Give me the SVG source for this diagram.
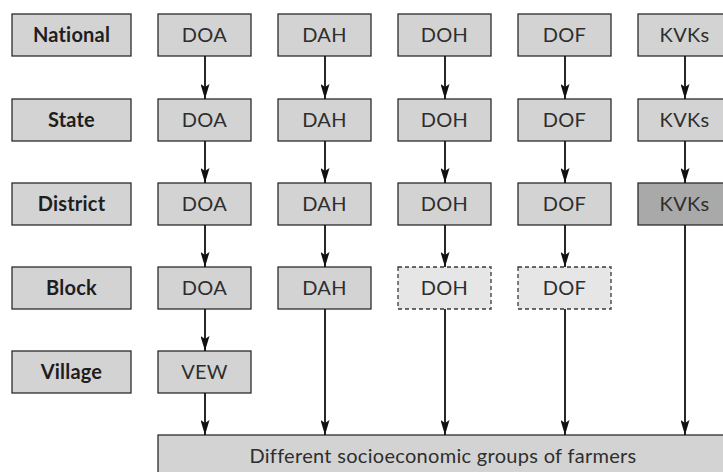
<svg xmlns="http://www.w3.org/2000/svg" width="723" height="472" viewBox="0 0 723 472">
<style>
.bx{fill:#d3d3d3;stroke:#2b2b2b;stroke-width:1.3}
.dk{fill:#a9a9a9;stroke:#2b2b2b;stroke-width:1.3}
.ds{fill:#e6e6e6;stroke:#3a3a3a;stroke-width:1.3;stroke-dasharray:4 3}
.lb{font-family:Lato,"Open Sans","Liberation Sans",sans-serif;font-weight:bold;font-size:20px;letter-spacing:0.2px;fill:#1e1e1e;text-anchor:middle}
.tx{font-family:Lato,"Open Sans","Liberation Sans",sans-serif;font-size:20px;letter-spacing:0.3px;fill:#2e2e2e;text-anchor:middle}
.ln{stroke:#111;stroke-width:1.8;fill:none;marker-end:url(#ah)}
</style>
<defs>
<marker id="ah" viewBox="0 0 15 9" refX="15" refY="4.5" markerWidth="15" markerHeight="9" markerUnits="userSpaceOnUse" orient="auto">
<path d="M0,0 L15,4.5 L0,9 L3,4.5 Z" fill="#111"/>
</marker>
</defs>
<g id="labels">
<g id="lbl-national"><rect class="bx" x="12" y="14" width="119" height="42"/><text class="lb" x="71.5" y="42">National</text></g>
<g id="lbl-state"><rect class="bx" x="12" y="99" width="119" height="42"/><text class="lb" x="71.5" y="127">State</text></g>
<g id="lbl-district"><rect class="bx" x="12" y="183" width="119" height="42"/><text class="lb" x="71.5" y="211">District</text></g>
<g id="lbl-block"><rect class="bx" x="12" y="267" width="119" height="42"/><text class="lb" x="71.5" y="295">Block</text></g>
<g id="lbl-village"><rect class="bx" x="12" y="351" width="119" height="42"/><text class="lb" x="71.5" y="379">Village</text></g>
</g>
<g id="doa-national"><rect class="bx" x="158" y="14" width="93" height="42"/><text class="tx" x="204.5" y="42">DOA</text></g>
<g id="doa-state"><rect class="bx" x="158" y="99" width="93" height="42"/><text class="tx" x="204.5" y="127">DOA</text></g>
<g id="doa-district"><rect class="bx" x="158" y="183" width="93" height="42"/><text class="tx" x="204.5" y="211">DOA</text></g>
<g id="doa-block"><rect class="bx" x="158" y="267" width="93" height="42"/><text class="tx" x="204.5" y="295">DOA</text></g>
<g id="vew-village"><rect class="bx" x="158" y="351" width="93" height="42"/><text class="tx" x="204.5" y="379">VEW</text></g>
<g id="dah-national"><rect class="bx" x="278" y="14" width="93" height="42"/><text class="tx" x="324.5" y="42">DAH</text></g>
<g id="dah-state"><rect class="bx" x="278" y="99" width="93" height="42"/><text class="tx" x="324.5" y="127">DAH</text></g>
<g id="dah-district"><rect class="bx" x="278" y="183" width="93" height="42"/><text class="tx" x="324.5" y="211">DAH</text></g>
<g id="dah-block"><rect class="bx" x="278" y="267" width="93" height="42"/><text class="tx" x="324.5" y="295">DAH</text></g>
<g id="doh-national"><rect class="bx" x="398" y="14" width="93" height="42"/><text class="tx" x="444.5" y="42">DOH</text></g>
<g id="doh-state"><rect class="bx" x="398" y="99" width="93" height="42"/><text class="tx" x="444.5" y="127">DOH</text></g>
<g id="doh-district"><rect class="bx" x="398" y="183" width="93" height="42"/><text class="tx" x="444.5" y="211">DOH</text></g>
<g id="doh-block"><rect class="ds" x="398" y="267" width="93" height="42"/><text class="tx" x="444.5" y="295">DOH</text></g>
<g id="dof-national"><rect class="bx" x="518" y="14" width="93" height="42"/><text class="tx" x="564.5" y="42">DOF</text></g>
<g id="dof-state"><rect class="bx" x="518" y="99" width="93" height="42"/><text class="tx" x="564.5" y="127">DOF</text></g>
<g id="dof-district"><rect class="bx" x="518" y="183" width="93" height="42"/><text class="tx" x="564.5" y="211">DOF</text></g>
<g id="dof-block"><rect class="ds" x="518" y="267" width="93" height="42"/><text class="tx" x="564.5" y="295">DOF</text></g>
<g id="kvk-national"><rect class="bx" x="638" y="14" width="93" height="42"/><text class="tx" x="684.5" y="42">KVKs</text></g>
<g id="kvk-state"><rect class="bx" x="638" y="99" width="93" height="42"/><text class="tx" x="684.5" y="127">KVKs</text></g>
<g id="kvk-district"><rect class="dk" x="638" y="183" width="93" height="42"/><text class="tx" x="684.5" y="211">KVKs</text></g>
<g id="farmers"><rect class="bx" x="158" y="435" width="580" height="50"/><text class="tx" x="443" y="463">Different socioeconomic groups of farmers</text></g>
<g id="connectors">
<line class="ln" x1="205" y1="56" x2="205" y2="99"/>
<line class="ln" x1="205" y1="141" x2="205" y2="183"/>
<line class="ln" x1="205" y1="225" x2="205" y2="267"/>
<line class="ln" x1="205" y1="309" x2="205" y2="351"/>
<line class="ln" x1="205" y1="393" x2="205" y2="435"/>
<line class="ln" x1="325" y1="56" x2="325" y2="99"/>
<line class="ln" x1="325" y1="141" x2="325" y2="183"/>
<line class="ln" x1="325" y1="225" x2="325" y2="267"/>
<line class="ln" x1="325" y1="309" x2="325" y2="435"/>
<line class="ln" x1="445" y1="56" x2="445" y2="99"/>
<line class="ln" x1="445" y1="141" x2="445" y2="183"/>
<line class="ln" x1="445" y1="225" x2="445" y2="267"/>
<line class="ln" x1="445" y1="309" x2="445" y2="435"/>
<line class="ln" x1="565" y1="56" x2="565" y2="99"/>
<line class="ln" x1="565" y1="141" x2="565" y2="183"/>
<line class="ln" x1="565" y1="225" x2="565" y2="267"/>
<line class="ln" x1="565" y1="309" x2="565" y2="435"/>
<line class="ln" x1="685" y1="56" x2="685" y2="99"/>
<line class="ln" x1="685" y1="141" x2="685" y2="183"/>
<line class="ln" x1="685" y1="225" x2="685" y2="435"/>
</g>
</svg>
